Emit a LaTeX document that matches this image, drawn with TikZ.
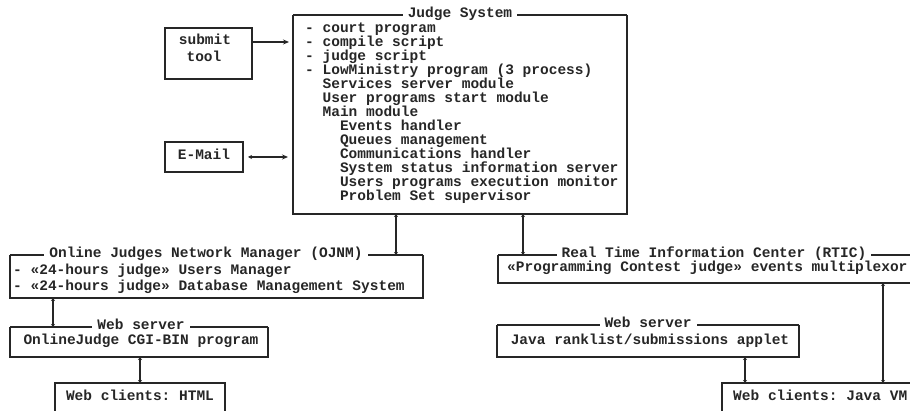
\documentclass[tikz,border=0pt]{standalone}
\usepackage{fontspec}
\setmonofont{Liberation Mono}
\usetikzlibrary{arrows.meta}
\tikzset{
  txt/.style={font=\ttfamily\bfseries\fontsize{14.5}{14}\selectfont, inner sep=0pt, text=black!85},
  ttl/.style={txt, fill=white, inner xsep=5pt, inner ysep=1pt, anchor=mid},
  box/.style={draw=none, inner sep=0pt, outer sep=0pt, anchor=north west},
  edgetop/.style={line width=1.3pt, black!85},
  edgeside/.style={line width=2.4pt, black!85, line join=miter},
  edgeall/.style={line width=1.6pt, black!85, line join=miter},
  conn/.style={line width=1.3pt, black!85, {Stealth[length=3pt,width=4pt]}-{Stealth[length=3pt,width=4pt]}},
  arr/.style={line width=1.3pt, black!85, -{Stealth[length=6pt,width=5pt]}},
  darr/.style={line width=1.3pt, black!85, {Stealth[length=4pt,width=4pt]}-{Stealth[length=6pt,width=5pt]}},
}
\begin{document}
\begin{tikzpicture}[x=1pt, y=-1pt]
\useasboundingbox (0,0) rectangle (910,411);
\clip (0,0) rectangle (910,411);

% ---------- boxes ----------
\node[box, minimum width=87pt, minimum height=51pt] (submit) at (165,28) {};
\node[box, minimum width=78pt, minimum height=30pt] (email) at (165,142) {};
\node[box, minimum width=334pt, minimum height=199pt] (judge) at (293,15) {};
\node[box, minimum width=413pt, minimum height=43pt] (ojnm) at (10,255) {};
\node[box, minimum width=432pt, minimum height=28pt] (rtic) at (498,255) {};
\node[box, minimum width=258pt, minimum height=30pt] (webl) at (10,327) {};
\node[box, minimum width=302pt, minimum height=32pt] (webj) at (497,325) {};
\node[box, minimum width=170pt, minimum height=40pt] (htmlc) at (55,383) {};
\node[box, minimum width=200pt, minimum height=40pt] (javac) at (722,383) {};

% simple boxes
\draw[edgeall] (submit.north west) rectangle (submit.south east);
\draw[edgeall] (email.north west) rectangle (email.south east);
\draw[edgeall] (htmlc.north west) rectangle (htmlc.south east);
\draw[edgeall] (javac.north west) rectangle (javac.south east);

% titled boxes
\foreach \b in {judge,ojnm,rtic,webl,webj}{
  \draw[edgetop] (\b.north west) -- (\b.north east);
  \draw[edgeside] (\b.north west) -- (\b.south west) -- (\b.south east) -- (\b.north east);
}

% ---------- titles ----------
\node[ttl] (judgettl) at (460,15) {Judge System};
\node[ttl] (ojnmttl) at (206,255) {Online Judges Network Manager (OJNM)};
\node[ttl] (rticttl) at (714,255) {Real Time Information Center (RTIC)};
\node[ttl] (webltl) at (141,327) {Web server};
\node[ttl] (webjtl) at (648,325) {Web server};

% ---------- texts ----------
\node[txt, anchor=mid] (sub1) at (205,42) {submit};
\node[txt, anchor=mid] (sub2) at (204,59) {tool};
\node[txt, anchor=mid] (emailt) at (204,157) {E-Mail};

\foreach \ind/\jtext [count=\i] in {
  0/{- court program},
  0/{- compile script},
  0/{- judge script},
  0/{- LowMinistry program (3 process)},
  2/{Services server module},
  2/{User programs start module},
  2/{Main module},
  4/{Events handler},
  4/{Queues management},
  4/{Communications handler},
  4/{System status information server},
  4/{Users programs execution monitor},
  4/{Problem Set supervisor}}
  \node[txt, anchor=mid west] (jl\i) at ({305+8.7*\ind}, {30+14*(\i-1)}) {\jtext};

\node[txt, anchor=mid west] (oj1) at (13,272) {- «24-hours judge» Users Manager};
\node[txt, anchor=mid west] (oj2) at (13,288) {- «24-hours judge» Database Management System};
\node[txt, anchor=mid west] (rt1) at (507,269) {«Programming Contest judge» events multiplexor};
\node[txt, anchor=mid] (wl1) at (141,342) {OnlineJudge CGI-BIN program};
\node[txt, anchor=mid] (wj1) at (650,342) {Java ranklist/submissions applet};
\node[txt, anchor=mid] (hc1) at (140,398) {Web clients: HTML};
\node[txt, anchor=mid west] (jc1) at (733,398) {Web clients: Java VM};

% ---------- connectors ----------
\coordinate (ya) at (0,42);
\draw[arr] (submit.east |- ya) -- ([xshift=-4pt]judge.west |- ya);
\draw[darr] ([xshift=5pt]email.east) -- ([xshift=-5pt]judge.west |- email.east);

\coordinate (c1) at (396,0);
\coordinate (c2) at (523,0);
\coordinate (c3) at (53,0);
\coordinate (c4) at (140,0);
\coordinate (c5) at (883,0);
\coordinate (c6) at (745,0);
\draw[conn] (c1 |- judge.south) -- (c1 |- ojnm.north);
\draw[conn] (c2 |- judge.south) -- (c2 |- rtic.north);
\draw[conn] (c3 |- ojnm.south) -- (c3 |- webl.north);
\draw[conn] (c4 |- webl.south) -- (c4 |- htmlc.north);
\draw[conn] (c5 |- rtic.south) -- (c5 |- javac.north);
\draw[conn] (c6 |- webj.south) -- (c6 |- javac.north);
\end{tikzpicture}
\end{document}
